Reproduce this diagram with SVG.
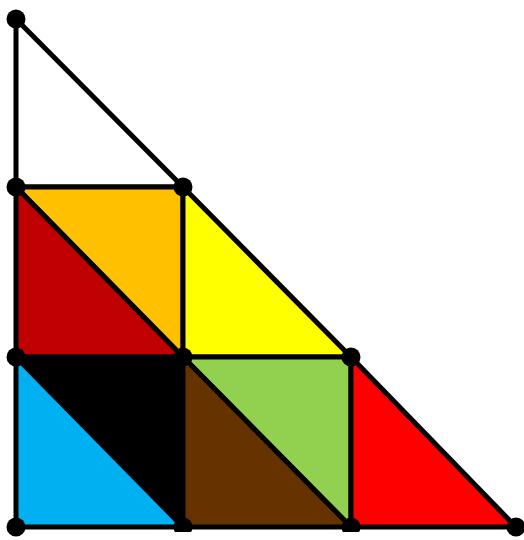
<svg xmlns="http://www.w3.org/2000/svg" width="524" height="540" viewBox="0 0 524 540">
<style>
.t{stroke:#000;stroke-width:5;stroke-linejoin:round}
.p{fill:#000}
</style>
<rect width="524" height="540" fill="#fff"/>
<g id="tri-white"><polygon class="t" fill="#fff" points="16,19 16,187 183,187"/></g>
<g id="tri-orange"><polygon class="t" fill="#FFC000" points="16,187 183,187 183,357"/></g>
<g id="tri-darkred"><polygon class="t" fill="#C00000" points="16,187 16,357 183,357"/></g>
<g id="tri-yellow"><polygon class="t" fill="#FFFF00" points="183,187 183,357 351,357"/></g>
<g id="tri-black"><polygon class="t" fill="#000" points="16,357 183,357 183,527"/></g>
<g id="tri-blue"><polygon class="t" fill="#00B0F0" points="16,357 16,527 183,527"/></g>
<g id="tri-green"><polygon class="t" fill="#92D050" points="183,357 351,357 351,527"/></g>
<g id="tri-brown"><polygon class="t" fill="#663300" points="183,357 183,527 351,527"/></g>
<g id="tri-red"><polygon class="t" fill="#FF0000" points="351,357 351,527 516,527"/></g>
<g id="points">
<circle class="p" cx="16" cy="19" r="9.5"/>
<circle class="p" cx="16" cy="187" r="9.5"/>
<circle class="p" cx="183" cy="187" r="9.5"/>
<circle class="p" cx="16" cy="357" r="9.5"/>
<circle class="p" cx="183" cy="357" r="9.5"/>
<circle class="p" cx="351" cy="357" r="9.5"/>
<circle class="p" cx="16" cy="527" r="9.5"/>
<circle class="p" cx="183" cy="527" r="9.5"/>
<circle class="p" cx="351" cy="527" r="9.5"/>
<circle class="p" cx="516" cy="527" r="9.5"/>
</g>
<rect x="168" y="532" width="200" height="8" fill="#fff"/>
</svg>
